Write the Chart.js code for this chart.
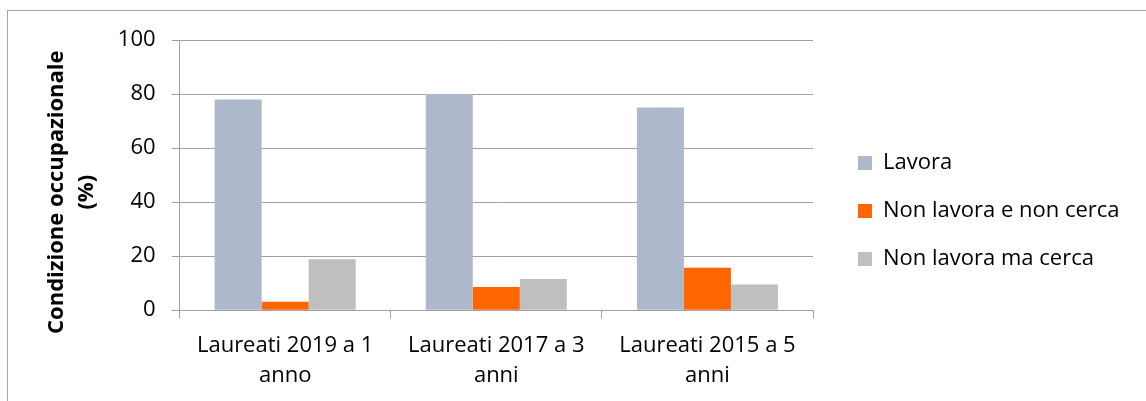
<!DOCTYPE html>
<html>
<head>
<meta charset="utf-8">
<script src="https://cdn.jsdelivr.net/npm/chart.js@4.4.0/dist/chart.umd.min.js"></script>
<style>
  html, body { margin: 0; padding: 0; background: #fff; overflow: hidden; }
  #wrap { position: relative; width: 1146px; height: 401px; }
  #frame { position: absolute; left: 7px; top: 10px; width: 1150px; height: 420px; border: 1px solid #a6a6a6; box-sizing: border-box; }
  canvas { position: absolute; left: 0; top: 0; }
</style>
</head>
<body>
<div id="wrap">
  <div id="frame"></div>
  <canvas id="chart" width="1146" height="401"></canvas>
</div>
<script>
// dati
const categories = [['Laureati 2019 a 1', 'anno'], ['Laureati 2017 a 3', 'anni'], ['Laureati 2015 a 5', 'anni']];
const lavora = [78, 80, 75];
const nonLavoraNonCerca = [3.1, 8.6, 15.7];
const nonLavoraCerca = [18.8, 11.5, 9.5];
const yTicks = [0, 20, 40, 60, 80, 100];

const FONT = 'Open Sans';
const gridColor = '#a0a0a0';

// legenda a larghezza fissa, voci spostate un po' a destra e in alto
const legendPlacer = {
  id: 'legendPlacer',
  beforeInit(chart) {
    const origFit = chart.legend.fit;
    chart.legend.fit = function () {
      origFit.call(this);
      this.width = 333;
    };
  },
  afterLayout(chart) {
    chart.legend.left += 19;
    chart.legend.right += 19;
    chart.legend.top -= 11;
    chart.legend.bottom -= 11;
  }
};

new Chart(document.getElementById('chart').getContext('2d'), {
  type: 'bar',
  data: {
    labels: categories,
    datasets: [
      { label: 'Lavora', data: lavora, backgroundColor: '#adb9ca' },
      { label: 'Non lavora e non cerca', data: nonLavoraNonCerca, backgroundColor: '#ff6600' },
      { label: 'Non lavora ma cerca', data: nonLavoraCerca, backgroundColor: '#bfbfbf' }
    ]
  },
  options: {
    responsive: false,
    animation: false,
    datasets: { bar: { barPercentage: 1, categoryPercentage: 0.668 } },
    layout: { padding: { left: 42, top: 40, right: 0, bottom: -3 } },
    scales: {
      x: {
        offset: true,
        grid: { offset: true, drawOnChartArea: false, drawTicks: true, tickLength: 8, color: gridColor },
        border: { color: gridColor },
        ticks: { color: '#000', font: { family: FONT, size: 22, lineHeight: 1.36 }, padding: 13, maxRotation: 0 }
      },
      y: {
        min: 0,
        max: 100,
        afterBuildTicks(axis) { axis.ticks = yTicks.map(v => ({ value: v })); },
        grid: { color: gridColor, tickLength: 8 },
        border: { color: gridColor },
        ticks: { color: '#000', font: { family: FONT, size: 22 }, padding: 16 },
        title: {
          display: true,
          // spazi finali: il titolo in Excel sta un po' più in basso del centro
          text: ['Condizione occupazionale      ', '(%)      '],
          color: '#000',
          font: { family: FONT, size: 22, weight: 'bold', lineHeight: 1.36 },
          padding: { top: 0, bottom: 0 }
        }
      }
    },
    plugins: {
      legend: {
        position: 'right',
        align: 'center',
        labels: {
          color: '#000',
          boxWidth: 14,
          boxHeight: 14,
          padding: 26,
          font: { family: FONT, size: 22 }
        }
      },
      tooltip: { enabled: false }
    }
  },
  plugins: [legendPlacer]
});
</script>
</body>
</html>
